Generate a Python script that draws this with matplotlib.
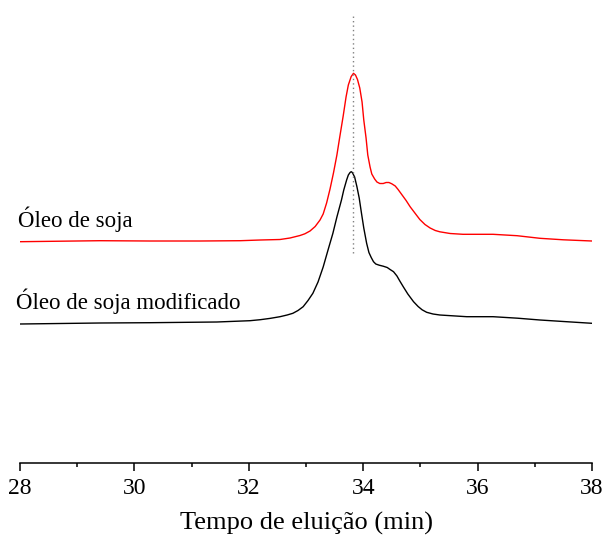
import matplotlib
matplotlib.use("Agg")
import matplotlib.pyplot as plt
from matplotlib.ticker import MultipleLocator

plt.rcParams['font.family'] = ['Liberation Serif', 'DejaVu Serif']

# Elution time (min) and detector response (arbitrary units), vertically stacked traces
t_soja = [28.00, 29.40, 30.27, 31.15, 31.85, 32.20, 32.545, 32.72, 32.895, 32.98,
          33.07, 33.16, 33.245, 33.30, 33.36, 33.42, 33.48, 33.54, 33.59, 33.65,
          33.70, 33.74, 33.79, 33.83, 33.865, 33.90, 33.94, 33.98, 34.01, 34.05,
          34.08, 34.12, 34.15, 34.20, 34.24, 34.29, 34.35, 34.40, 34.45, 34.50,
          34.56, 34.61, 34.68, 34.75, 34.82, 34.91, 34.99, 35.08, 35.17, 35.26,
          35.34, 35.52, 35.745, 36.27, 36.69, 37.09, 37.50, 38.00]
y_soja = [221.3, 222.3, 222.0, 222.0, 222.3, 223.0, 223.5, 225.0, 227.5, 229.2,
          232.0, 236.5, 243.0, 249.0, 260.0, 274.0, 290.0, 308.0, 326.0, 347.0,
          366.0, 378.0, 386.5, 389.7, 388.0, 383.5, 375.0, 361.0, 343.0, 325.0,
          308.0, 296.0, 289.0, 284.0, 281.0, 279.5, 279.5, 280.5, 280.5, 279.2,
          277.0, 273.5, 268.0, 262.5, 256.3, 249.5, 243.5, 238.5, 235.0, 232.5,
          231.2, 229.5, 228.7, 228.7, 227.3, 224.7, 223.2, 222.0]

t_mod = [28.00, 29.40, 30.27, 31.44, 32.02, 32.20, 32.37, 32.545, 32.67, 32.77,
         32.86, 32.95, 33.035, 33.12, 33.21, 33.30, 33.385, 33.47, 33.54, 33.62,
         33.66, 33.71, 33.74, 33.77, 33.79, 33.81, 33.85, 33.89, 33.93, 33.97,
         34.01, 34.06, 34.10, 34.14, 34.18, 34.22, 34.28, 34.35, 34.42, 34.47,
         34.53, 34.59, 34.64, 34.70, 34.78, 34.88, 34.96, 35.03, 35.11, 35.22,
         35.34, 35.81, 36.27, 36.70, 37.09, 37.50, 38.00]
y_mod = [139.0, 140.0, 140.3, 141.0, 142.3, 143.3, 144.6, 146.3, 148.0, 149.7,
         152.5, 156.3, 162.5, 169.7, 181.0, 196.0, 213.0, 229.7, 246.0, 263.0,
         273.0, 283.0, 288.0, 290.5, 291.3, 290.5, 286.0, 276.3, 265.0, 249.7,
         235.0, 219.7, 210.5, 205.5, 201.3, 199.0, 197.8, 196.8, 195.5, 193.5,
         191.3, 187.0, 182.0, 176.3, 169.0, 161.3, 156.5, 153.2, 150.7, 149.0,
         148.0, 146.3, 146.3, 144.8, 143.0, 141.5, 139.7]

peak_time = 33.82
labels = ["Óleo de soja", "Óleo de soja modificado"]

fig = plt.figure(figsize=(6.05, 5.44), dpi=100)
ax = fig.add_axes([0.0331, 0.1489, 0.9454, 0.8327])

ax.plot(t_soja, y_soja, color='#ff0000', lw=1.0, solid_joinstyle='round')
ax.plot(t_mod, y_mod, color='black', lw=1.0, solid_joinstyle='round')
ax.plot([peak_time, peak_time], [210, 448], color='#808080', lw=1.0,
        linestyle=(0, (1, 2.2)))

ax.text(27.97, 235.7, labels[0], fontsize=16.5, va='baseline', ha='left')
ax.text(27.93, 153.7, labels[1], fontsize=16.5, va='baseline', ha='left')

ax.set_xlim(28, 38)
ax.set_ylim(0, 453)
ax.xaxis.set_major_locator(MultipleLocator(2))
ax.xaxis.set_minor_locator(MultipleLocator(1))
ax.set_yticks([])
for s in ('left', 'right', 'top'):
    ax.spines[s].set_visible(False)
ax.spines['bottom'].set_linewidth(1.1)
ax.tick_params(axis='x', which='major', direction='out', length=6, width=1.1,
               labelsize=17, pad=5)
ax.tick_params(axis='x', which='minor', direction='out', length=3, width=1.1)
ax.set_xlabel("Tempo de eluição (min)", fontsize=19, labelpad=9)

fig.savefig("out.png", dpi=100)
